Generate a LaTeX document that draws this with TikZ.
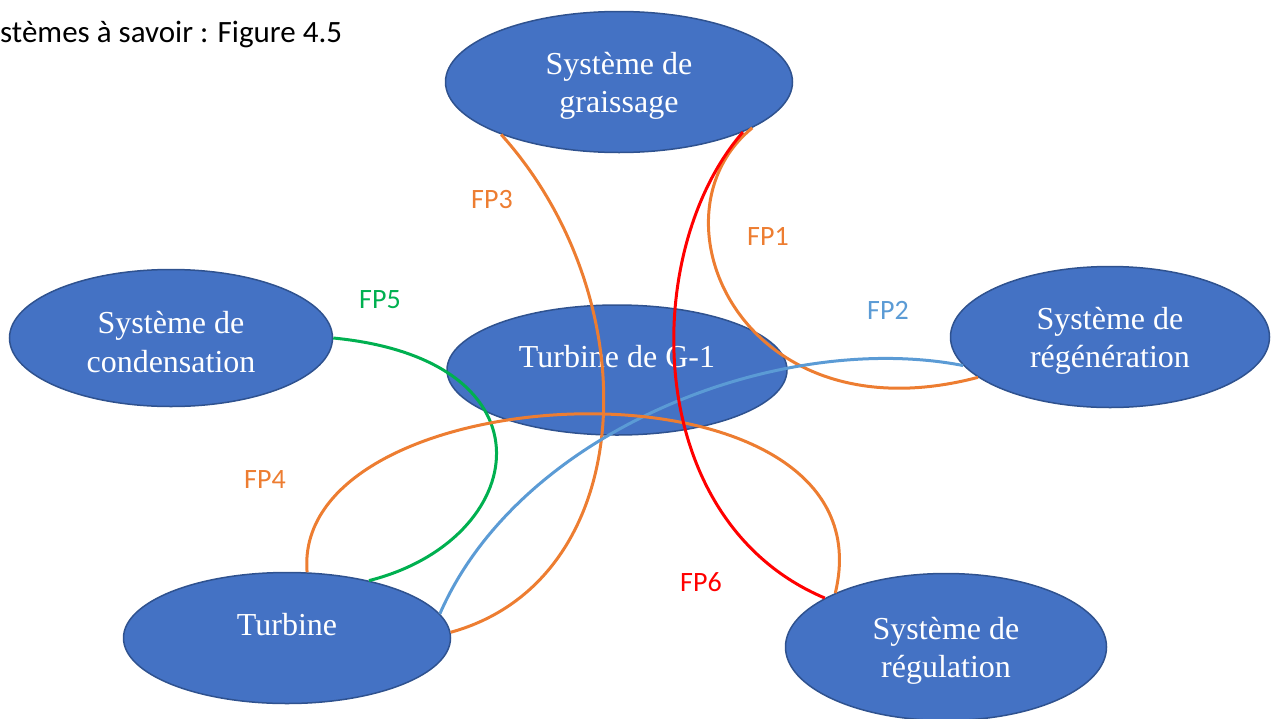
\documentclass[tikz,border=0pt]{standalone}
\usepackage{fontspec}
\setmainfont{Liberation Serif}
\newfontfamily\calibri{Carlito}
\usetikzlibrary{shapes.geometric}
\definecolor{nodefill}{HTML}{4472C4}
\definecolor{nodeedge}{HTML}{2F528F}
\definecolor{fporange}{HTML}{ED7D31}
\definecolor{fpblue}{HTML}{5B9BD5}
\definecolor{fpgreen}{HTML}{00B050}
\definecolor{fpred}{HTML}{FF0000}
\newcommand{\lowstrut}{\rule{0pt}{30pt}}
\begin{document}
\begin{tikzpicture}[x=1pt,y=-1pt,
  sysnode/.style={ellipse, fill=nodefill, draw=nodeedge, line width=1.5pt, text=white,
    font=\fontsize{32}{38.5}\selectfont, inner sep=0pt},
  twoline/.style={align=center},
  oneline/.style={text height=22pt, text depth=28pt},
  link/.style={line width=3pt},
  fplabel/.style={font=\calibri\fontsize{28}{32}\selectfont}]
\useasboundingbox (0,0) rectangle (1277,718);
\node[anchor=base west, font=\calibri\fontsize{31}{36}\selectfont, inner sep=0pt] (hdr) at (0,42) {stèmes à savoir : Figure 4.5};

\node[sysnode, twoline, minimum width=347pt, minimum height=141pt] (grai) at (619,82) {\lowstrut Système de\\graissage};
\node[sysnode, oneline, minimum width=340pt, minimum height=130pt] (g1) at (617,370) {Turbine de G-1};
\node[sysnode, twoline, minimum width=323pt, minimum height=137pt] (cond) at (171,338) {\lowstrut Système de\\condensation};
\node[sysnode, twoline, minimum width=319pt, minimum height=141pt] (rege) at (1110,337) {\lowstrut Système de\\régénération};
\node[sysnode, oneline, minimum width=327pt, minimum height=131pt] (turb) at (287,638) {Turbine};
\node[sysnode, twoline, minimum width=321pt, minimum height=147pt] (regu) at (946,647) {\lowstrut Système de\\régulation};

\draw[link, fporange] (grai.-156.4) .. controls (650,300) and (640,580) .. (turb.2);
\draw[link, fporange] (grai.-19.2) .. controls (645,215) and (740,440) .. (rege.197.3);
\draw[link, fpblue] (rege.191.5) .. controls (780,330) and (520,430) .. (turb.9.8);
\draw[link, fpgreen] (cond.0) .. controls (560,360) and (530,540) .. (turb.35.9);
\draw[link, fporange] (turb.73) .. controls (290,370) and (895,345) .. (regu.154.3);
\draw[link, fpred] (grai.-22.5) .. controls (640,250) and (640,520) .. (regu.158.7);

\node[fplabel, text=fporange] (l3) at (492,200) {FP3};
\node[fplabel, text=fporange] (l1) at (768,236) {FP1};
\node[fplabel, text=fpblue] (l2) at (888,310) {FP2};
\node[fplabel, text=fpgreen] (l5) at (380,300) {FP5};
\node[fplabel, text=fporange] (l4) at (265,480) {FP4};
\node[fplabel, text=fpred] (l6) at (701,582) {FP6};
\end{tikzpicture}
\end{document}
